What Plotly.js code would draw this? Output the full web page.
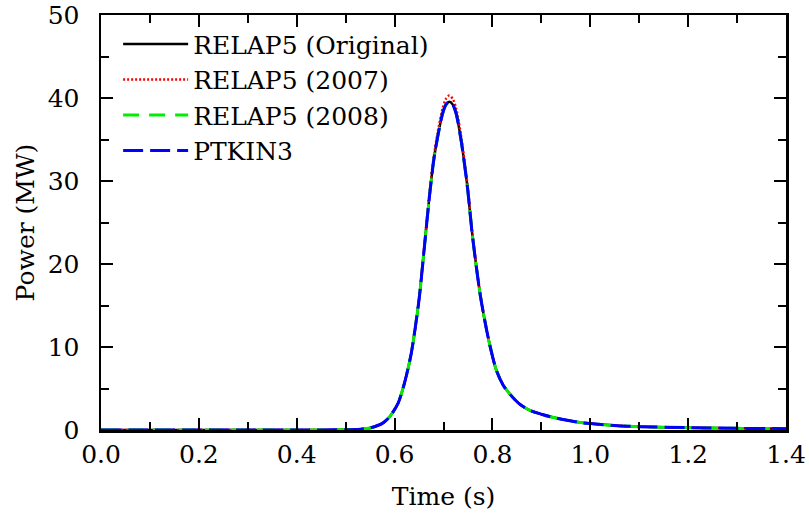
<!DOCTYPE html>
<html>
<head>
<meta charset="utf-8">
<script src="https://cdn.plot.ly/plotly-3.0.1.min.js"></script>
<style>html,body{margin:0;padding:0;background:#fff;}#chart{width:809px;height:518px;}</style>
</head>
<body>
<div id="chart"></div>
<script>
const time = [0, 0.1, 0.2, 0.3, 0.4, 0.45, 0.5, 0.53, 0.55, 0.575, 0.59, 0.607, 0.62, 0.634, 0.65, 0.661, 0.671, 0.68, 0.688, 0.698, 0.705, 0.712, 0.719, 0.726, 0.736, 0.743, 0.75, 0.758, 0.767, 0.775, 0.784, 0.794, 0.808, 0.822, 0.836, 0.856, 0.877, 0.9, 0.925, 0.95, 0.98, 1.0, 1.055, 1.1, 1.2, 1.3, 1.4];
const powerOriginal = [0, 0, 0, 0, 0, 0.01, 0.03, 0.1, 0.25, 0.8, 1.6, 3.2, 5.6, 9.2, 15.7, 22.1, 28.0, 32.5, 35.3, 38.1, 39.2, 39.55, 39.2, 38.1, 34.9, 32.0, 28.7, 24.0, 19.7, 16.3, 13.3, 10.4, 7.2, 5.4, 4.3, 3.1, 2.35, 1.9, 1.5, 1.2, 0.9, 0.78, 0.52, 0.4, 0.28, 0.2, 0.16];
const power2007 = [0, 0, 0, 0, 0, 0.01, 0.03, 0.1, 0.25, 0.8, 1.6, 3.2, 5.6, 9.2, 15.8, 22.3, 28.3, 32.9, 35.8, 38.7, 39.9, 40.3, 39.9, 38.7, 35.4, 32.4, 29.0, 24.2, 19.8, 16.4, 13.3, 10.4, 7.2, 5.4, 4.3, 3.1, 2.35, 1.9, 1.5, 1.2, 0.9, 0.78, 0.52, 0.4, 0.28, 0.2, 0.16];
const power2008 = [0, 0, 0, 0, 0, 0.01, 0.03, 0.1, 0.25, 0.8, 1.6, 3.2, 5.6, 9.2, 15.7, 22.1, 28.0, 32.5, 35.3, 38.1, 39.2, 39.6, 39.2, 38.1, 34.9, 32.0, 28.7, 24.0, 19.7, 16.3, 13.3, 10.4, 7.2, 5.4, 4.3, 3.1, 2.35, 1.9, 1.5, 1.2, 0.9, 0.78, 0.52, 0.4, 0.28, 0.2, 0.16];
const powerPTKIN3 = [0, 0, 0, 0, 0, 0.01, 0.03, 0.1, 0.25, 0.8, 1.6, 3.2, 5.6, 9.2, 15.7, 22.1, 28.0, 32.5, 35.3, 38.1, 39.2, 39.55, 39.2, 38.1, 34.9, 32.0, 28.7, 24.0, 19.7, 16.3, 13.3, 10.4, 7.2, 5.4, 4.3, 3.1, 2.35, 1.9, 1.5, 1.2, 0.9, 0.78, 0.52, 0.4, 0.28, 0.2, 0.16];
const seriesNames = ['RELAP5 (Original)', 'RELAP5 (2007)', 'RELAP5 (2008)', 'PTKIN3'];
const yTickValues = [0, 10, 20, 30, 40, 50];
const xTickValues = [0, 0.2, 0.4, 0.6, 0.8, 1.0, 1.2, 1.4];

const FONT = 'DejaVu Serif';
const FS = 25;
const traces = [
  {x: time, y: powerOriginal, name: seriesNames[0], mode: 'lines', line: {color: '#000000', width: 2.5, shape: 'spline', smoothing: 0.7}},
  {x: time, y: power2007, name: seriesNames[1], mode: 'lines', line: {color: '#ff0000', width: 2.5, dash: '2px,2px', shape: 'spline', smoothing: 0.7}},
  {x: time, y: power2008, name: seriesNames[2], mode: 'lines', line: {color: '#00ee00', width: 3, dash: '16px,10px', shape: 'spline', smoothing: 0.7}},
  {x: time, y: powerPTKIN3, name: seriesNames[3], mode: 'lines', line: {color: '#0000ff', width: 3, dash: '20px,7px', shape: 'spline', smoothing: 0.7}}
];

const layout = {
  width: 809, height: 518,
  margin: {l: 101, r: 23, t: 15, b: 88},
  paper_bgcolor: '#fff', plot_bgcolor: '#fff',
  font: {family: FONT, size: FS, color: '#000'},
  showlegend: true,
  legend: {x: 0.025, y: 0.985, xanchor: 'left', yanchor: 'top', bgcolor: 'rgba(0,0,0,0)',
           font: {family: FONT, size: FS, color: '#000'}, itemwidth: 65, tracegroupgap: 0},
  xaxis: {
    range: [0, 1.4], tickmode: 'array', tickvals: xTickValues, tickformat: '.1f',
    ticks: 'inside', ticklen: 12, tickwidth: 2, tickcolor: '#000', ticklabeloverflow: 'allow',
    minor: {dtick: 0.1, tick0: 0, ticks: 'inside', ticklen: 8, tickwidth: 2, tickcolor: '#000'},
    showline: true, linewidth: 2.5, linecolor: '#000', mirror: 'ticks',
    showgrid: false, zeroline: false,
    tickfont: {family: FONT, size: FS},
    title: {text: 'Time (s)', font: {family: FONT, size: FS}, standoff: 20}
  },
  yaxis: {
    range: [0, 50], tickmode: 'array', tickvals: yTickValues,
    ticks: 'inside', ticklen: 12, tickwidth: 2, tickcolor: '#000', ticklabeloverflow: 'allow',
    ticklabelstandoff: 14,
    minor: {dtick: 5, tick0: 0, ticks: 'inside', ticklen: 8, tickwidth: 2, tickcolor: '#000'},
    showline: true, linewidth: 2.5, linecolor: '#000', mirror: 'ticks',
    showgrid: false, zeroline: false,
    tickfont: {family: FONT, size: FS},
    title: {text: 'Power (MW)', font: {family: FONT, size: FS}, standoff: 6}
  }
};

Plotly.newPlot('chart', traces, layout, {staticPlot: true, displayModeBar: false});
</script>
</body>
</html>
